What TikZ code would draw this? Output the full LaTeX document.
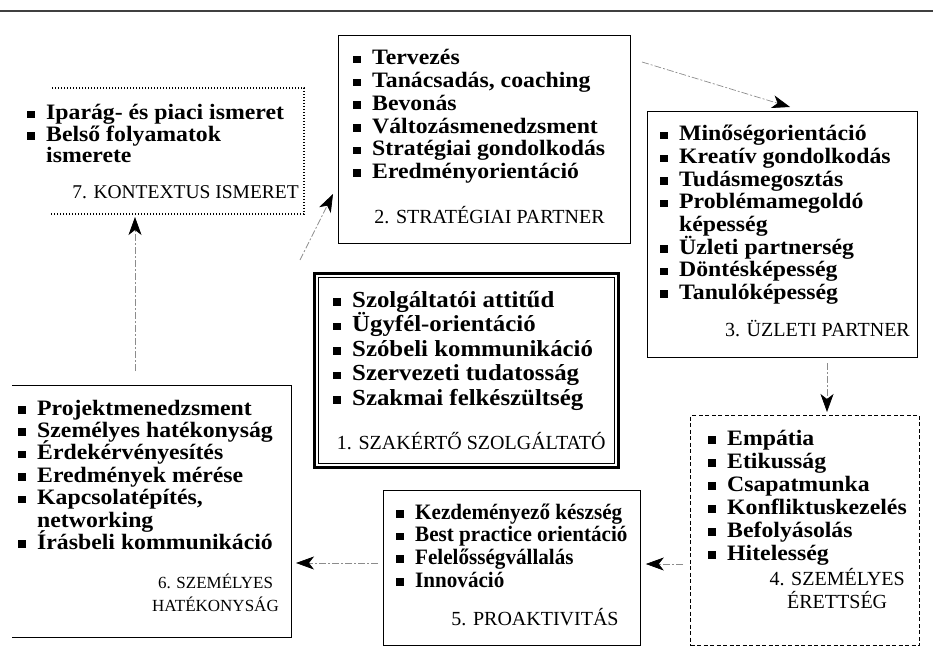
\documentclass[tikz,border=0pt]{standalone}
\usepackage{fontspec}
\setmainfont{Liberation Serif}
\newfontfamily\itemfont{Liberation Serif}[FakeStretch=1.08]
\newfontfamily\narrowfont{Liberation Serif}[FakeStretch=0.96]
\usetikzlibrary{positioning, arrows.meta}

\newcommand{\bul}{\rule[1.5pt]{7.5pt}{7.5pt}\hspace{11.5pt}}
\newcommand{\nob}{\hspace{19pt}}

\tikzset{
  box/.style={draw, line width=1pt, anchor=north west, inner sep=0pt},
  dotbox/.style={line width=1.2pt, dash pattern=on 1.2pt off 1.8pt},
  dashbox/.style={line width=1.3pt, dash pattern=on 4pt off 2.5pt},
  item/.style={anchor=base west, inner sep=0pt, font=\itemfont\bfseries\fontsize{22}{22}\selectfont},
  bigitem/.style={item, font=\itemfont\bfseries\fontsize{23}{23}\selectfont},
  smallitem/.style={item, font=\narrowfont\bfseries\fontsize{22}{22}\selectfont},
  title/.style={inner sep=0pt, align=center, font=\fontsize{20}{23}\selectfont},
  smalltitle/.style={title, font=\fontsize{17}{23}\selectfont},
  conn/.style={draw=black!45, line width=0.7pt, dash pattern=on 7pt off 2pt on 2pt off 2pt,
    -{Stealth[length=18pt, width=13pt, inset=5pt, color=black]}}
}

\begin{document}
\begin{tikzpicture}[x=1pt, y=-1pt]
\useasboundingbox (0,0) rectangle (933,660);
\draw[line width=1.2pt, black!75] (0,11) -- (933,11);

% the seven boxes
\node[box, draw=none, minimum width=283pt, minimum height=125pt] (kontextus) at (20,88) {};
\node[box, minimum width=292pt, minimum height=208pt] (strategiai) at (338,35) {};
\node[box, minimum width=270pt, minimum height=246pt] (uzleti) at (647,111) {};
\node[box, line width=2.5pt, minimum width=304pt, minimum height=194pt] (szakerto) at (313,272) {};
\node[box, dashbox, minimum width=229pt, minimum height=230pt] (erettseg) at (690,415) {};
\node[box, line width=0.8pt, minimum width=257pt, minimum height=155pt] (proakt) at (383,490) {};
\node[box, draw=none, minimum width=278pt, minimum height=251pt] (hatekony) at (12,385) {};

\draw[dotbox] ([xshift=32pt]kontextus.north west) -- (kontextus.north east)
  -- (kontextus.south east) -- ([xshift=30pt]kontextus.south west);
\draw[line width=0.8pt] (hatekony.north west) -- (hatekony.north east)
  -- (hatekony.south east) -- (hatekony.south west);
\draw[line width=0.8pt] ([shift={(5,5)}]szakerto.north west) rectangle ([shift={(-5,-5)}]szakerto.south east);

% 7.
\foreach \txt [count=\i from 0] in {{\bul Iparág- és piaci ismeret}, {\bul Belső folyamatok}, {\nob ismerete}}
  \node[item] (kontextus-\i) at ([shift={(7,32+21.5*\i)}]kontextus.north west) {\txt};
\node[title, font=\fontsize{19.5}{23}\selectfont, anchor=base east] (kontextus-title)
  at ([shift={(-5,111)}]kontextus.north east) {7. KONTEXTUS ISMERET};

% 2.
\foreach \txt [count=\i from 0] in {{\bul Tervezés}, {\bul Tanácsadás, coaching}, {\bul Bevonás},
    {\bul Változásmenedzsment}, {\bul Stratégiai gondolkodás}, {\bul Eredményorientáció}}
  \node[item] (strategiai-\i) at ([shift={(15,30+22.7*\i)}]strategiai.north west) {\txt};
\node[title, anchor=base] (strategiai-title) at ([shift={(5,-20)}]strategiai.south) {2. STRATÉGIAI PARTNER};

% 3.
\foreach \txt [count=\i from 0] in {{\bul Minőségorientáció}, {\bul Kreatív gondolkodás}, {\bul Tudásmegosztás},
    {\bul Problémamegoldó}, {\nob képesség}, {\bul Üzleti partnerség}, {\bul Döntésképesség}, {\bul Tanulóképesség}}
  \node[item] (uzleti-\i) at ([shift={(13,30+22.6*\i)}]uzleti.north west) {\txt};
\node[title, anchor=base east] (uzleti-title) at ([shift={(-8,-22)}]uzleti.south east) {3. ÜZLETI PARTNER};

% 1.
\foreach \txt [count=\i from 0] in {{\bul Szolgáltatói attitűd}, {\bul Ügyfél-orientáció}, {\bul Szóbeli kommunikáció},
    {\bul Szervezeti tudatosság}, {\bul Szakmai felkészültség}}
  \node[bigitem] (szakerto-\i) at ([shift={(20,35+24.6*\i)}]szakerto.north west) {\txt};
\node[title, anchor=base] (szakerto-title) at ([shift={(5,-19)}]szakerto.south) {1. SZAKÉRTŐ SZOLGÁLTATÓ};

% 4.
\foreach \txt [count=\i from 0] in {{\bul Empátia}, {\bul Etikusság}, {\bul Csapatmunka},
    {\bul Konfliktuskezelés}, {\bul Befolyásolás}, {\bul Hitelesség}}
  \node[item] (erettseg-\i) at ([shift={(18,30+23*\i)}]erettseg.north west) {\txt};
\node[title, anchor=south] (erettseg-title) at ([shift={(32,-37)}]erettseg.south) {4. SZEMÉLYES\\ÉRETTSÉG};

% 5.
\foreach \txt [count=\i from 0] in {{\bul Kezdeményező készség}, {\bul Best practice orientáció},
    {\bul Felelősségvállalás}, {\bul Innováció}}
  \node[smallitem] (proakt-\i) at ([shift={(13,29+22.7*\i)}]proakt.north west) {\txt};
\node[title, anchor=base east] (proakt-title) at ([shift={(-22,-20)}]proakt.south east) {5. PROAKTIVITÁS};

% 6.
\foreach \txt [count=\i from 0] in {{\bul Projektmenedzsment}, {\bul Személyes hatékonyság}, {\bul Érdekérvényesítés},
    {\bul Eredmények mérése}, {\bul Kapcsolatépítés,}, {\nob networking}, {\bul Írásbeli kommunikáció}}
  \node[item] (hatekony-\i) at ([shift={(6,30+22.4*\i)}]hatekony.north west) {\txt};
\node[smalltitle, anchor=south] (hatekony-title) at ([shift={(64,-25)}]hatekony.south) {6. SZEMÉLYES\\HATÉKONYSÁG};

% arrows
\coordinate (c67) at (135,0);
\coordinate (s72) at (300,260);
\coordinate (s23) at (642,62);
\coordinate (c34) at (827,0);
\coordinate (c45) at (0,564);
\coordinate (c56) at (0,563);
\draw[conn, shorten <=14pt, shorten >=3pt] (hatekony.north -| c67) -- (kontextus.south -| c67);
\draw[conn] (s72) -- ([shift={(-5,-50)}]strategiai.south west);
\draw[conn] (s23) -- ([shift={(143,-4)}]uzleti.north west);
\draw[conn, shorten <=5pt, shorten >=3pt] (uzleti.south -| c34) -- (erettseg.north -| c34);
\draw[conn, shorten <=7pt, shorten >=5pt] (erettseg.west |- c45) -- (proakt.east |- c45);
\draw[conn, shorten <=5pt, shorten >=5pt] (proakt.west |- c56) -- (hatekony.east |- c56);
\end{tikzpicture}
\end{document}
